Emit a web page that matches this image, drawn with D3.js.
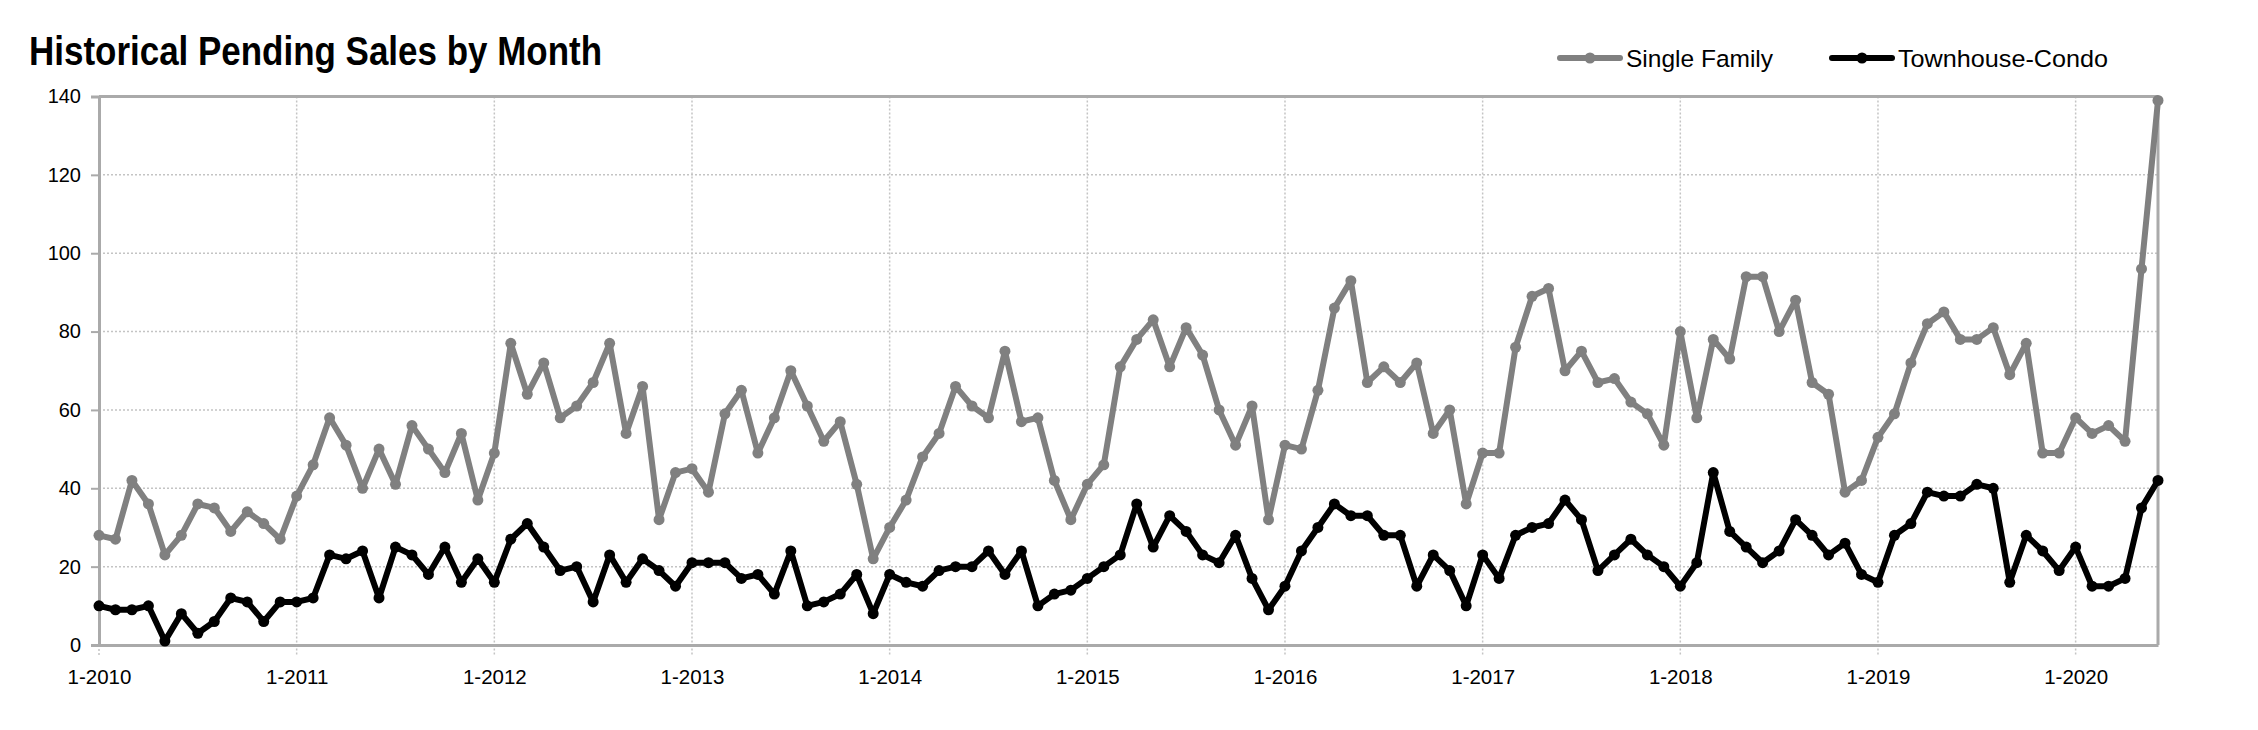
<!DOCTYPE html>
<html>
<head>
<meta charset="utf-8">
<script src="https://cdn.jsdelivr.net/npm/d3@7"></script>
<style>
  html, body { margin: 0; padding: 0; background: #fff; }
  svg { display: block; }
</style>
</head>
<body>
<svg id="chart" width="2258" height="730"></svg>
<script>
const title = "Historical Pending Sales by Month";
const seriesNames = ["Single Family", "Townhouse-Condo"];
const xTickLabels = ["1-2010","1-2011","1-2012","1-2013","1-2014","1-2015","1-2016","1-2017","1-2018","1-2019","1-2020"];
const yTicks = [0, 20, 40, 60, 80, 100, 120, 140];

const singleFamily = [
  28,27,42,36,23,28,36,35,29,34,31,27,
  38,46,58,51,40,50,41,56,50,44,54,37,
  49,77,64,72,58,61,67,77,54,66,32,44,
  45,39,59,65,49,58,70,61,52,57,41,22,
  30,37,48,54,66,61,58,75,57,58,42,32,
  41,46,71,78,83,71,81,74,60,51,61,32,
  51,50,65,86,93,67,71,67,72,54,60,36,
  49,49,76,89,91,70,75,67,68,62,59,51,
  80,58,78,73,94,94,80,88,67,64,39,42,
  53,59,72,82,85,78,78,81,69,77,49,49,
  58,54,56,52,96,139
];
const townhouseCondo = [
  10,9,9,10,1,8,3,6,12,11,6,11,
  11,12,23,22,24,12,25,23,18,25,16,22,
  16,27,31,25,19,20,11,23,16,22,19,15,
  21,21,21,17,18,13,24,10,11,13,18,8,
  18,16,15,19,20,20,24,18,24,10,13,14,
  17,20,23,36,25,33,29,23,21,28,17,9,
  15,24,30,36,33,33,28,28,15,23,19,10,
  23,17,28,30,31,37,32,19,23,27,23,20,
  15,21,44,29,25,21,24,32,28,23,26,18,
  16,28,31,39,38,38,41,40,16,28,24,19,
  25,15,15,17,35,42
];
const seriesColors = ["#808080", "#000000"];

(function () {
const svg = d3.select("#chart");
const mLeft = 99, mRight = 2158, mTop = 96.5, mBottom = 645;
const nMonths = singleFamily.length;

const x = d3.scaleLinear().domain([0, nMonths - 1]).range([mLeft, mRight]);
const y = d3.scaleLinear().domain([0, 140]).range([mBottom, mTop]);

const axisColor = "#aaaaaa";
const gridColor = "#c4c4c4";
const tickIdx = xTickLabels.map((_, i) => i * 12);

// Horizontal gridlines (dotted)
svg.append("g").selectAll("line").data(yTicks.filter(v => v > 0 && v < 140)).join("line")
  .attr("x1", mLeft).attr("x2", mRight)
  .attr("y1", d => y(d)).attr("y2", d => y(d))
  .attr("stroke", gridColor).attr("stroke-width", 1.5).attr("stroke-dasharray", "2,2");

// Vertical gridlines (dotted), extend slightly below axis
svg.append("g").selectAll("line").data(tickIdx.filter(i => i > 0)).join("line")
  .attr("x1", d => x(d)).attr("x2", d => x(d))
  .attr("y1", mTop).attr("y2", mBottom + 10)
  .attr("stroke", gridColor).attr("stroke-width", 1.5).attr("stroke-dasharray", "2,2");
svg.append("line").attr("x1", x(0)).attr("x2", x(0)).attr("y1", mBottom).attr("y2", mBottom + 10)
  .attr("stroke", gridColor).attr("stroke-width", 1.5).attr("stroke-dasharray", "2,2");

// Y axis via d3
const yAxis = d3.axisLeft(y).tickValues(yTicks).tickSize(8).tickPadding(10).tickFormat(d3.format("d"));
const gy = svg.append("g").attr("transform", `translate(${mLeft},0)`).call(yAxis);
gy.select(".domain").attr("stroke", axisColor).attr("stroke-width", 3);
gy.selectAll(".tick line").attr("stroke", axisColor).attr("stroke-width", 2);
gy.selectAll(".tick text").attr("font-family", "Liberation Sans, Arial, sans-serif")
  .attr("font-size", 20).attr("fill", "#000");

// X axis via d3
const xAxis = d3.axisBottom(x).tickValues(tickIdx).tickSize(0).tickPadding(24)
  .tickFormat((d, i) => xTickLabels[i]);
const gx = svg.append("g").attr("transform", `translate(0,${mBottom})`).call(xAxis);
gx.select(".domain").attr("stroke", axisColor).attr("stroke-width", 3);
gx.selectAll(".tick text").attr("font-family", "Liberation Sans, Arial, sans-serif")
  .attr("font-size", 20.5).attr("fill", "#000");

// Top and right frame lines
svg.append("line").attr("x1", mLeft).attr("x2", mRight).attr("y1", y(140)).attr("y2", y(140))
  .attr("stroke", axisColor).attr("stroke-width", 3);
svg.append("line").attr("x1", mRight).attr("x2", mRight).attr("y1", mTop).attr("y2", mBottom)
  .attr("stroke", axisColor).attr("stroke-width", 3);

// Series
const line = d3.line().x((d, i) => x(i)).y(d => y(d));
[singleFamily, townhouseCondo].forEach((data, s) => {
  const g = svg.append("g");
  g.append("path").datum(data).attr("d", line)
    .attr("fill", "none").attr("stroke", seriesColors[s]).attr("stroke-width", 6)
    .attr("stroke-linejoin", "round").attr("stroke-linecap", "round");
  g.selectAll("circle").data(data).join("circle")
    .attr("cx", (d, i) => x(i)).attr("cy", d => y(d)).attr("r", 5.5)
    .attr("fill", seriesColors[s]);
});

// Title
const t = svg.append("text").attr("x", 29).attr("y", 65)
  .attr("font-family", "Liberation Sans Narrow, Arial Narrow, Liberation Sans, sans-serif")
  .attr("font-weight", "bold").attr("font-size", 41).attr("fill", "#000")
  .text(title);
const tw = t.node().getComputedTextLength();
if (Math.abs(tw - 573) > 8) t.attr("textLength", 573).attr("lengthAdjust", "spacingAndGlyphs");

// Legend
const legendX = [1560, 1832];
const legendTextW = [148, 210];
seriesNames.forEach((name, s) => {
  const g = svg.append("g").attr("transform", `translate(${legendX[s]},58)`);
  g.append("line").attr("x1", 0).attr("x2", 60).attr("y1", 0).attr("y2", 0)
    .attr("stroke", seriesColors[s]).attr("stroke-width", 6).attr("stroke-linecap", "round");
  g.append("circle").attr("cx", 30).attr("cy", 0).attr("r", 5.5).attr("fill", seriesColors[s]);
  const lt = g.append("text").attr("x", 66).attr("y", 8.5)
    .attr("font-family", "Liberation Sans, Arial, sans-serif").attr("font-size", 24.5)
    .attr("fill", "#000").text(name);
  const w = lt.node().getComputedTextLength();
  if (Math.abs(w - legendTextW[s]) > 5) lt.attr("textLength", legendTextW[s]).attr("lengthAdjust", "spacingAndGlyphs");
});
})();
</script>
</body>
</html>
